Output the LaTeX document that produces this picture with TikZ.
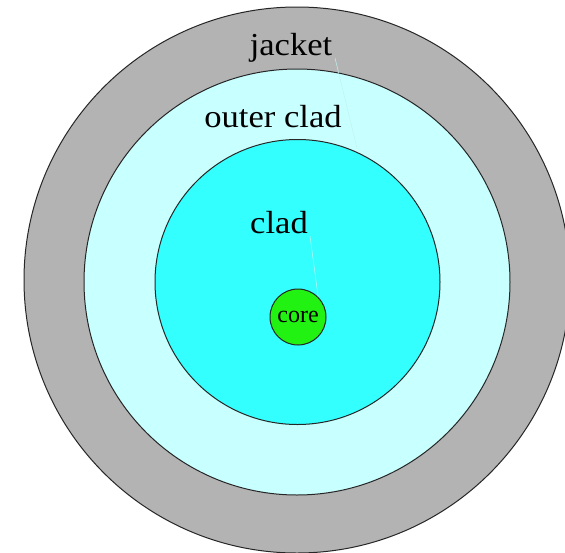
\documentclass[tikz,border=0pt]{standalone}
\usepackage{fontspec}
\setmainfont{Liberation Serif}
\definecolor{jacketgray}{HTML}{B3B3B3}
\definecolor{outerclad}{HTML}{C8FFFF}
\definecolor{cladcyan}{HTML}{33FFFF}
\definecolor{coregreen}{HTML}{22F211}
\definecolor{leader}{HTML}{C0F4F0}
\tikzset{
  ring/.style={draw=black!85, line width=1pt},
  lbl/.style={inner sep=0pt, anchor=base, text=black},
  leaderline/.style={draw=leader, line width=0.5pt}
}
\begin{document}
\begin{tikzpicture}[x=1pt,y=-1pt]
\useasboundingbox (0,0) rectangle (565,552);
\begin{scope}
\clip (0,0) rectangle (565,552);
\fill[white] (0,0) rectangle (565,552);
\filldraw[ring, fill=jacketgray] (297,280) circle[radius=273];
\filldraw[ring, fill=outerclad] (297,282) circle[radius=213];
\filldraw[ring, fill=cladcyan] (297.5,282) circle[radius=142.5];
\end{scope}
\node[lbl, font=\fontsize{32}{32}\selectfont] (jacket) at (291,55) {\scalebox{1.08}[1]{jacket}};
\node[lbl, font=\fontsize{32}{32}\selectfont] (outer) at (273,127) {\scalebox{1.08}[1]{outer clad}};
\node[lbl, font=\fontsize{32}{32}\selectfont] (clad) at (279,233) {\scalebox{1.08}[1]{clad}};
\coordinate (jend) at (357,148);
\coordinate (cstart) at (310,236);
\node[circle, ring, fill=coregreen, minimum size=56pt, inner sep=0pt, font=\fontsize{24}{24}\selectfont] (core) at (298,317) {core};
\draw[leaderline] (335,58) -- (jend);
\draw[leaderline] (cstart) -- (core.north east);
\end{tikzpicture}
\end{document}
